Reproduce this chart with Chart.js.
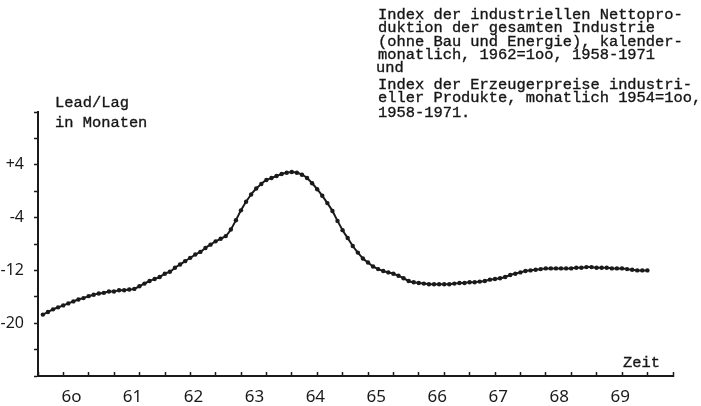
<!DOCTYPE html>
<html>
<head>
<meta charset="utf-8">
<script src="https://cdn.jsdelivr.net/npm/chart.js@4"></script>
<style>
  html, body { margin: 0; padding: 0; background: #fff; }
  #wrap { position: relative; width: 701px; height: 406px; }
  canvas { position: absolute; left: 0; top: 0; }
  .tw {
    position: absolute;
    font-family: "Liberation Mono", "DejaVu Sans Mono", monospace;
    font-size: 15.4px;
    line-height: 14px;
    color: #161616;
    -webkit-text-stroke: 0.35px #161616;
    white-space: pre;
  }
</style>
</head>
<body>
<div id="wrap">
  <canvas id="chart" width="701" height="406"></canvas>
  <div class="tw" style="left:378px;top:8px">Index der industriellen Nettopro-</div>
  <div class="tw" style="left:378px;top:21px">duktion der gesamten Industrie</div>
  <div class="tw" style="left:378px;top:35px">(ohne Bau und Energie), kalender-</div>
  <div class="tw" style="left:378px;top:48px">monatlich, 1962=1oo, 1958-1971</div>
  <div class="tw" style="left:376px;top:61px">und</div>
  <div class="tw" style="left:378px;top:78px">Index der Erzeugerpreise industri-</div>
  <div class="tw" style="left:378px;top:91px">eller Produkte, monatlich 1954=1oo,</div>
  <div class="tw" style="left:378px;top:106px">1958-1971.</div>
  <div class="tw" style="left:55px;top:96px">Lead/Lag</div>
  <div class="tw" style="left:55px;top:116px">in Monaten</div>
  <div class="tw" style="left:623px;top:356px">Zeit</div>
</div>
<script>
document.addEventListener("DOMContentLoaded", () => {
  // --- DATEN ---
  // erster Monat der Reihe (Jahreszahl, zweistellig)
  const firstMonth = 59.53;

  // Lead/Lag in Monaten, monatlich
  const leadLag = [
    -18.7, -18.3, -17.9, -17.6, -17.3, -17.0, -16.7, -16.4, -16.2, -15.9,
    -15.7, -15.5, -15.4, -15.2, -15.2, -15.0, -15.0, -14.9, -14.8, -14.4,
    -14.0, -13.6, -13.3, -13.0, -12.5, -12.2, -11.6, -11.1, -10.6, -10.1,
    -9.6, -9.2, -8.6, -8.1, -7.6, -7.2, -6.8, -5.8, -4.4, -2.9,
    -1.6, -0.5, 0.4, 1.1, 1.7, 2.0, 2.3, 2.6, 2.8, 2.9,
    2.8, 2.5, 2.0, 1.2, 0.3, -0.7, -1.8, -3.0, -4.5, -5.9,
    -7.1, -8.3, -9.3, -10.2, -10.8, -11.4, -11.8, -12.1, -12.3, -12.5,
    -12.8, -13.2, -13.6, -13.8, -13.9, -14.0, -14.1, -14.1, -14.1, -14.1,
    -14.1, -14.0, -13.9, -13.9, -13.8, -13.8, -13.7, -13.6, -13.4, -13.3,
    -13.2, -13.0, -12.7, -12.5, -12.3, -12.1, -12.0, -11.9, -11.8, -11.7,
    -11.7, -11.7, -11.7, -11.7, -11.7, -11.6, -11.6, -11.5, -11.5, -11.6,
    -11.6, -11.6, -11.7, -11.7, -11.7, -11.8, -11.9, -12.0, -12.0, -12.0,
  ];

  // Achsenbeschriftung
  const years = [60, 61, 62, 63, 64, 65, 66, 67, 68, 69];
  const yearLabels = ["6o", "61", "62", "63", "64", "65", "66", "67", "68", "69"];
  const yTickValues = [4, -4, -12, -20];
  const yTickLabels = ["+4", "-4", "-12", "-20"];

  // --- ACHSEN ---
  const xStep = 5 / 12; // kleine Striche auf der Zeitachse, alle 5 Monate
  const xMin = 59.45;
  const xMax = xMin + 25 * xStep;
  const ink = "#1a1a1a";
  const tickFont = (size) => ({ family: "'Noto Sans', 'DejaVu Sans', sans-serif", size });

  const points = leadLag.map((v, i) => ({ x: firstMonth + i / 12, y: v }));

  const ctx = document.getElementById("chart").getContext("2d");

  new Chart(ctx, {
    type: "line",
    data: {
      datasets: [
        {
          label: "Lead/Lag",
          data: points,
          borderColor: ink,
          backgroundColor: ink,
          borderWidth: 2,
          pointRadius: 2.2,
          pointBorderWidth: 0,
          tension: 0.3,
        },
      ],
    },
    options: {
      responsive: false,
      animation: false,
      layout: { padding: { left: 0, right: 28, top: 112, bottom: 0 } },
      plugins: { legend: { display: false }, tooltip: { enabled: false } },
      scales: {
        x: {
          type: "linear",
          min: xMin,
          max: xMax,
          afterBuildTicks: (scale) => {
            const ticks = years.map((y) => ({ value: y, major: true }));
            for (let k = 0; k <= 25; k++) {
              ticks.push({ value: xMin + k * xStep });
            }
            ticks.sort((a, b) => a.value - b.value);
            scale.ticks = ticks;
          },
          afterFit: (scale) => {
            scale.height = 30;
          },
          border: { display: true, color: ink, width: 2 },
          grid: {
            drawOnChartArea: false,
            drawTicks: true,
            tickLength: -4,
            tickWidth: 1.5,
            tickColor: (c) =>
              c.tick && years.includes(c.tick.value) ? "rgba(0,0,0,0)" : ink,
          },
          ticks: {
            autoSkip: false,
            maxRotation: 0,
            padding: 15,
            color: ink,
            font: tickFont(17),
            callback: (value) => {
              const i = years.indexOf(value);
              return i >= 0 ? yearLabels[i] : "";
            },
          },
        },
        y: {
          min: -28,
          max: 12,
          afterFit: (scale) => {
            scale.width = 38;
          },
          border: { display: true, color: ink, width: 2 },
          grid: {
            drawOnChartArea: false,
            drawTicks: true,
            tickLength: 4,
            tickWidth: 1.5,
            tickColor: ink,
          },
          ticks: {
            stepSize: 4,
            padding: 10,
            color: ink,
            font: tickFont(16),
            callback: (value) => {
              const i = yTickValues.indexOf(value);
              return i >= 0 ? yTickLabels[i] : "";
            },
          },
        },
      },
    },
  });
});
</script>
</body>
</html>
